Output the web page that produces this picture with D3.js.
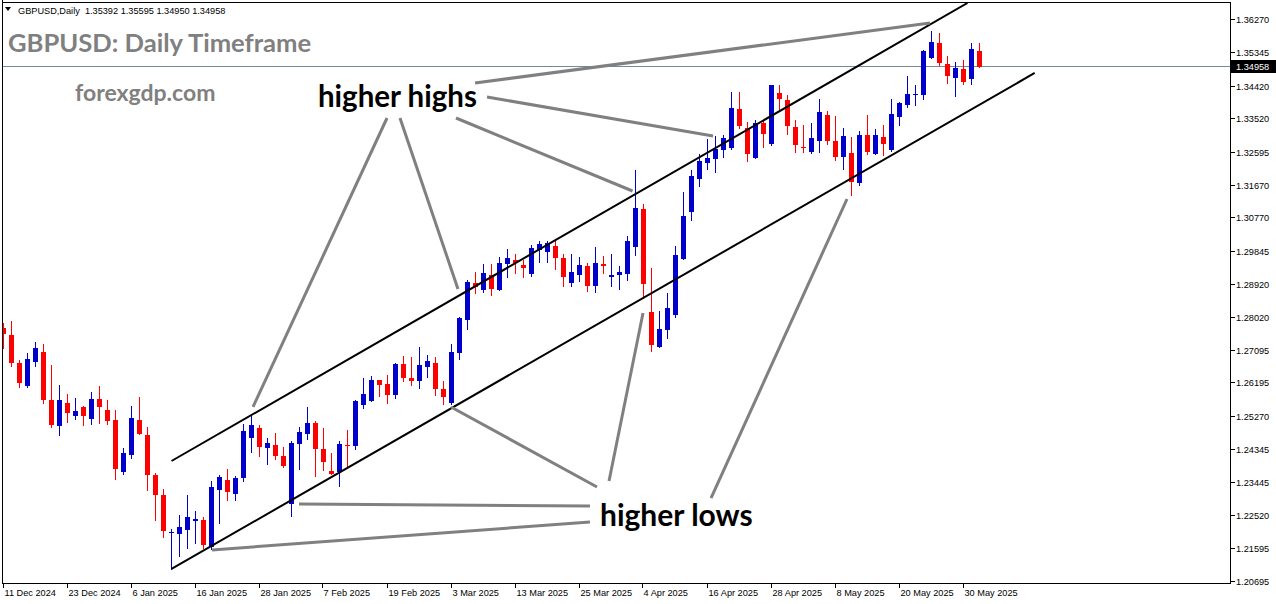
<!DOCTYPE html>
<html><head><meta charset="utf-8">
<script src="https://cdnjs.cloudflare.com/ajax/libs/d3/7.8.5/d3.min.js"></script>
<style>body{margin:0;background:#fff;overflow:hidden}svg{display:block}</style>
</head><body><svg id="c" width="1276" height="604"></svg>
<script>
// ---- data ----
const opens = [1.27703,1.27508,1.26732,1.26094,1.26760,1.27037,1.25706,1.24985,1.25623,1.25262,1.25512,1.25179,1.25734,1.25429,1.25151,1.23710,1.24181,1.25151,1.24736,1.23626,1.23072,1.22004,1.21990,1.22101,1.22351,1.22378,1.21630,1.23210,1.23488,1.23100,1.23543,1.24652,1.24930,1.24375,1.24458,1.24153,1.22822,1.24486,1.24763,1.25068,1.24347,1.23737,1.23710,1.24458,1.24431,1.25567,1.25678,1.26261,1.26150,1.25845,1.26704,1.26316,1.26233,1.26621,1.26732,1.26011,1.25623,1.27009,1.27924,1.28950,1.28756,1.29171,1.28756,1.29476,1.29587,1.29449,1.29199,1.29865,1.29809,1.29976,1.29643,1.28950,1.29171,1.29421,1.28866,1.29476,1.29116,1.29171,1.29199,1.29948,1.31002,1.28146,1.27176,1.27647,1.28063,1.29615,1.30918,1.31834,1.32277,1.32388,1.32638,1.32693,1.33775,1.33248,1.32416,1.33386,1.32804,1.34218,1.34024,1.33275,1.32721,1.32582,1.32887,1.33608,1.32887,1.32444,1.32554,1.31722,1.33054,1.32527,1.32998,1.32638,1.33553,1.33885,1.34171,1.34163,1.35189,1.35605,1.35022,1.34634,1.34884,1.34606,1.35392];
const highs = [1.27841,1.27897,1.26815,1.27009,1.27314,1.27259,1.26677,1.26122,1.25874,1.25762,1.25540,1.25930,1.26094,1.25706,1.25429,1.24375,1.25540,1.25790,1.24957,1.23682,1.23238,1.22129,1.22517,1.23072,1.22628,1.22462,1.23460,1.23626,1.23793,1.23599,1.25041,1.25262,1.25013,1.24652,1.24791,1.24403,1.24569,1.24957,1.25512,1.25124,1.24930,1.24236,1.24569,1.24874,1.25706,1.26316,1.26372,1.26261,1.26399,1.26732,1.26926,1.26898,1.27176,1.26954,1.26898,1.26233,1.27259,1.28008,1.29033,1.29255,1.29476,1.29476,1.29671,1.29892,1.29754,1.29587,1.30003,1.30114,1.30114,1.30142,1.29754,1.29754,1.29671,1.29504,1.29948,1.29698,1.29754,1.29421,1.30253,1.32083,1.31140,1.29365,1.28174,1.28662,1.29976,1.31473,1.32083,1.32527,1.32943,1.33026,1.33054,1.34246,1.34246,1.33414,1.33469,1.33469,1.34440,1.34440,1.34163,1.33469,1.33331,1.33386,1.34052,1.33719,1.33580,1.33248,1.32998,1.33164,1.33608,1.33220,1.33331,1.34052,1.33969,1.34690,1.34440,1.35411,1.35937,1.35882,1.35244,1.35078,1.35133,1.35605,1.35595];
const lows = [1.27148,1.26649,1.26066,1.26066,1.26649,1.25623,1.24957,1.24736,1.25096,1.25179,1.25013,1.25041,1.25068,1.25041,1.23516,1.23654,1.24098,1.24763,1.23210,1.22378,1.21907,1.21020,1.21380,1.21602,1.21741,1.21602,1.21574,1.22295,1.22933,1.22933,1.23460,1.24264,1.24153,1.23931,1.24070,1.23848,1.22489,1.23793,1.24625,1.23599,1.23765,1.23640,1.23321,1.23848,1.24347,1.25484,1.25678,1.25817,1.25623,1.25762,1.26233,1.26122,1.26038,1.26344,1.25845,1.25595,1.25595,1.26843,1.27675,1.28662,1.28700,1.28617,1.28756,1.29116,1.29227,1.29116,1.29144,1.29532,1.29532,1.29338,1.28866,1.28866,1.29005,1.28728,1.28700,1.29227,1.28866,1.28783,1.29033,1.29726,1.28534,1.27065,1.27176,1.27425,1.28008,1.29615,1.30696,1.31639,1.32111,1.32028,1.32444,1.32665,1.33248,1.32333,1.32416,1.32721,1.32776,1.33775,1.33081,1.32582,1.32582,1.32554,1.32582,1.32804,1.32360,1.32111,1.31390,1.31667,1.32527,1.32527,1.32499,1.32610,1.33331,1.33830,1.33885,1.34052,1.35189,1.34995,1.34496,1.34135,1.34468,1.34468,1.34950];
const closes = [1.27536,1.26732,1.26177,1.26843,1.27148,1.25706,1.25013,1.25706,1.25346,1.25401,1.25262,1.25734,1.25512,1.25124,1.23793,1.24236,1.25207,1.24763,1.23626,1.23072,1.22073,1.22032,1.22184,1.22462,1.22406,1.21685,1.23294,1.23571,1.23155,1.23543,1.24846,1.25013,1.24403,1.24514,1.24153,1.23876,1.24514,1.24819,1.25068,1.24347,1.23987,1.23654,1.24486,1.24431,1.25678,1.25873,1.26261,1.26122,1.25845,1.26704,1.26316,1.26233,1.26677,1.26788,1.26011,1.25790,1.27037,1.27980,1.28977,1.28839,1.29227,1.28783,1.29504,1.29643,1.29504,1.29365,1.29920,1.30031,1.30059,1.29643,1.29116,1.29255,1.29449,1.28866,1.29504,1.29421,1.29171,1.29255,1.30114,1.31029,1.28922,1.27231,1.27675,1.28257,1.29726,1.30807,1.31917,1.32333,1.32416,1.32665,1.32970,1.33802,1.33303,1.32527,1.33386,1.33081,1.34440,1.34052,1.33303,1.32776,1.32693,1.32970,1.33691,1.32887,1.32444,1.33026,1.31750,1.33054,1.32582,1.33054,1.32804,1.33636,1.33941,1.34191,1.34191,1.35383,1.35632,1.35050,1.34690,1.34912,1.34523,1.35438,1.34958];
const dateLabels = ["11 Dec 2024","23 Dec 2024","6 Jan 2025","16 Jan 2025","28 Jan 2025","7 Feb 2025","19 Feb 2025","3 Mar 2025","13 Mar 2025","25 Mar 2025","4 Apr 2025","16 Apr 2025","28 Apr 2025","8 May 2025","20 May 2025","30 May 2025"];
const dateLabelBar = [0,8,16,24,32,40,48,56,64,72,80,88,96,104,112,120];
const priceTicks = [1.36270,1.35345,1.34420,1.33520,1.32595,1.31670,1.30770,1.29845,1.28920,1.28020,1.27095,1.26195,1.25270,1.24345,1.23445,1.22520,1.21595,1.20695];
// channel lines [barStart, priceStart, barEnd, priceEnd]
const upperChannel = [21, 1.24014, 120.5, 1.36714];
const lowerChannel = [21, 1.21020, 128.9, 1.34773];
// annotation pointer lines [bar1, price1, bar2, price2]
const highsPointers = [[47.94,1.33525,31.19,1.25512],[49.56,1.33525,56.81,1.28783],[56.56,1.33525,78.63,1.31501],[60.44,1.34107,88.69,1.33026],[58.94,1.34496,115.81,1.36159]];
const lowsPointers = [[74.19,1.23294,55.94,1.25512],[75.69,1.23460,79.94,1.28118],[88.44,1.22988,105.44,1.31279],[73.31,1.22767,36.94,1.22822],[73.31,1.22323,26.06,1.21547]];
const headerText = "GBPUSD,Daily  1.35392 1.35595 1.34950 1.34958";

// ---- scales ----
const svg = d3.select("#c");
const W = 1276, H = 604;
const plotL = 2, plotR = 1230, plotB = 583, plotT = 2;
const x = d3.scaleLinear().domain([0, 122]).range([3.5, 979.5]);
const y = d3.scaleLinear().domain([1.20695, 1.36270]).range([580.7, 19]);
const blue = "#0000CD", red = "#FF0000";
const axisFont = "Liberation Sans, Arial, sans-serif";
const axisSize = 9.2;

svg.append("rect").attr("width", W).attr("height", H).attr("fill", "#fff");
svg.append("clipPath").attr("id","plot").append("rect").attr("x",plotL+1).attr("y",plotT+1).attr("width",plotR-plotL-1).attr("height",plotB-plotT-1);

// price line
const lastClose = closes[closes.length-1];
svg.append("line").attr("x1",plotL).attr("x2",plotR).attr("y1",Math.round(y(lastClose))+0.5).attr("y2",Math.round(y(lastClose))+0.5)
  .attr("stroke","#778899").attr("stroke-width",1);

// candles
const data = opens.map((o,i)=>({i,o,h:highs[i],l:lows[i],c:closes[i]}));
const g = svg.append("g").attr("clip-path","url(#plot)").attr("shape-rendering","crispEdges");
g.selectAll("line.w").data(data).join("line").attr("class","w")
  .attr("x1",d=>x(d.i)).attr("x2",d=>x(d.i))
  .attr("y1",d=>Math.round(y(d.h))).attr("y2",d=>Math.round(y(d.l))+1)
  .attr("stroke",d=>d.c>=d.o?blue:red).attr("stroke-width",1);
g.selectAll("rect.b").data(data).join("rect").attr("class","b")
  .attr("x",d=>x(d.i)-2.5).attr("width",5)
  .attr("y",d=>Math.round(Math.min(y(d.o),y(d.c))))
  .attr("height",d=>Math.max(1,Math.round(Math.abs(y(d.o)-y(d.c)))))
  .attr("fill",d=>d.c>=d.o?blue:red);

// channel lines
const lg = svg.append("g").attr("clip-path","url(#plot)");
[upperChannel, lowerChannel].forEach(c=>{
  lg.append("line").attr("x1",x(c[0])).attr("y1",y(c[1])).attr("x2",x(c[2])).attr("y2",y(c[3]))
    .attr("stroke","#000").attr("stroke-width",2);
});
// pointer lines
highsPointers.concat(lowsPointers).forEach(p=>{
  lg.append("line").attr("x1",x(p[0])).attr("y1",y(p[1])).attr("x2",x(p[2])).attr("y2",y(p[3]))
    .attr("stroke","#808080").attr("stroke-width",3);
});

// annotations text
svg.append("text").attr("x",x(39.31)).attr("y",y(1.33830)).text("higher highs")
  .attr("font-family","Lato, sans-serif").attr("font-weight","bold").attr("font-size",29.5).attr("fill","#000");
svg.append("text").attr("x",x(74.56)).attr("y",y(1.22212)).text("higher lows")
  .attr("font-family","Lato, sans-serif").attr("font-weight","bold").attr("font-size",30).attr("fill","#000");

// titles
svg.append("text").attr("x",8).attr("y",52).text("GBPUSD: Daily Timeframe")
  .attr("font-family","Lato, sans-serif").attr("font-weight","bold").attr("font-size",25.6).attr("fill","#808080");
svg.append("text").attr("x",75).attr("y",101).text("forexgdp.com")
  .attr("font-family","Lato, sans-serif").attr("font-weight","bold").attr("font-size",23).attr("fill","#808080");

// header
svg.append("path").attr("d","M5,7 L11,7 L8,11 Z").attr("fill","#000");
svg.append("text").attr("x",18).attr("y",14).text(headerText).style("white-space","pre")
  .attr("font-family",axisFont).attr("font-size",axisSize).attr("fill","#000");

// frame
const fr = svg.append("g").attr("shape-rendering","crispEdges").attr("stroke","#000").attr("stroke-width",1);
fr.append("line").attr("x1",plotL+0.5).attr("x2",plotL+0.5).attr("y1",0).attr("y2",plotB+1);
fr.append("line").attr("x1",plotL).attr("x2",plotR+1).attr("y1",plotB+0.5).attr("y2",plotB+0.5);
fr.append("line").attr("x1",plotR+0.5).attr("x2",plotR+0.5).attr("y1",plotT).attr("y2",plotB+1);
fr.append("line").attr("x1",plotL).attr("x2",plotR+1).attr("y1",plotT+0.5).attr("y2",plotT+0.5);

// right axis
const ya = svg.append("g");
priceTicks.forEach(v=>{
  const yy = Math.round(y(v))+0.5;
  ya.append("line").attr("x1",plotR+1).attr("x2",plotR+5).attr("y1",yy).attr("y2",yy).attr("stroke","#000").attr("shape-rendering","crispEdges");
  ya.append("text").attr("x",plotR+6).attr("y",yy+3.5).text(v.toFixed(5))
    .attr("font-family",axisFont).attr("font-size",axisSize).attr("fill","#000");
});
// price label
const py = Math.round(y(lastClose));
svg.append("rect").attr("x",plotR+1).attr("y",py-6).attr("width",45).attr("height",13).attr("fill","#000");
svg.append("text").attr("x",plotR+6).attr("y",py+4).text(lastClose.toFixed(5))
  .attr("font-family",axisFont).attr("font-size",axisSize).attr("fill","#fff");

// bottom axis
const xa = svg.append("g");
dateLabels.forEach((lab,k)=>{
  const xx = Math.round(x(dateLabelBar[k]))-0.5;
  xa.append("line").attr("x1",xx).attr("x2",xx).attr("y1",plotB).attr("y2",plotB+5).attr("stroke","#000").attr("shape-rendering","crispEdges");
  xa.append("text").attr("x",xx+1).attr("y",596).text(lab)
    .attr("font-family",axisFont).attr("font-size",axisSize).attr("fill","#000");
});
</script></body></html>
